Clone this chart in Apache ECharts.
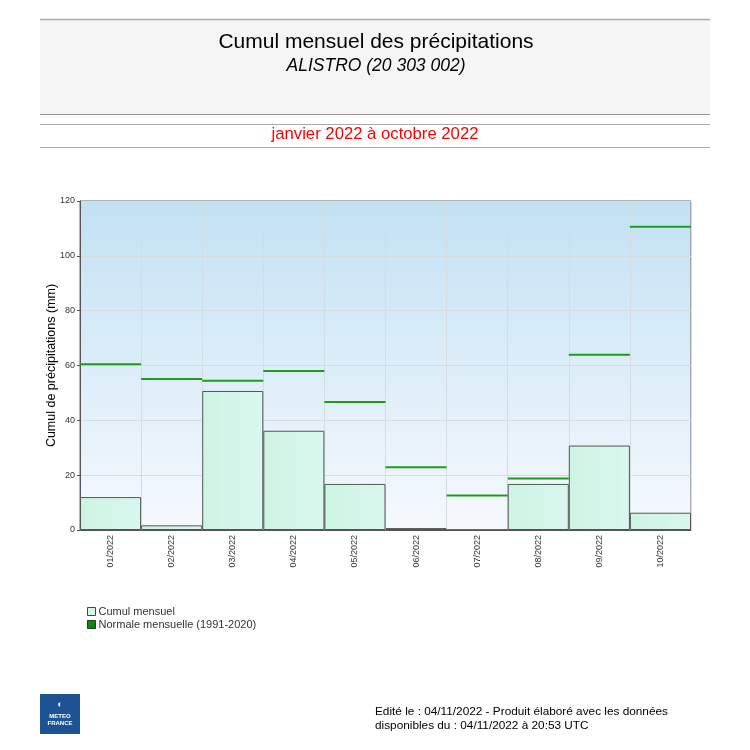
<!DOCTYPE html>
<html><head><meta charset="utf-8">
<script src="https://cdn.jsdelivr.net/npm/echarts@6/dist/echarts.min.js"></script>
<style>html,body{margin:0;padding:0;background:#fff}#c{width:750px;height:750px}</style>
</head><body><div id="c"></div>
<script>
const months = ['01/2022','02/2022','03/2022','04/2022','05/2022','06/2022','07/2022','08/2022','09/2022','10/2022'];
const cumul = [12.0, 1.7, 50.7, 36.2, 16.8, 0.7, 0.0, 16.8, 30.8, 6.3];
const normale = [60.5, 55.1, 54.4, 58.0, 46.7, 22.9, 12.6, 18.8, 63.9, 110.6];
const yTicks = [0, 20, 40, 60, 80, 100, 120];

const chart = echarts.init(document.getElementById('c'), null, {renderer:'canvas'});
const F = 'Liberation Sans, Arial, sans-serif';
chart.setOption({
  animation:false,
  textStyle:{fontFamily:F},
  grid:{left:80, top:201, width:611, height:329, show:true, borderColor:'#666', borderWidth:1,
    backgroundColor:{type:'linear',x:0,y:0,x2:0,y2:1,colorStops:[{offset:0,color:'#c2e1f3'},{offset:1,color:'#f6f9fe'}]}},
  legend:{orient:'vertical', left:82, top:601, itemWidth:8, itemHeight:8, itemGap:2, icon:'rect',
    textStyle:{fontSize:11, color:'#333', fontFamily:F, padding:[0,0,0,-2]}, selectedMode:false,
    data:[{name:'Cumul mensuel', itemStyle:{color:'#d2f5e8', borderColor:'#444', borderWidth:1}},
          {name:'Normale mensuelle (1991-2020)', itemStyle:{color:'#0a8a0a', borderColor:'#333', borderWidth:1}}]},
  xAxis:{type:'category', data:months, boundaryGap:true,
    axisLine:{lineStyle:{color:'#555'}}, axisTick:{show:false},
    axisLabel:{rotate:90, fontSize:9, color:'#333', margin:5, fontFamily:F},
    splitLine:{show:true, lineStyle:{color:'#d4dbe1', width:1}}},
  yAxis:{type:'value', min:0, max:120, interval:20,
    name:'Cumul de précipitations (mm)', nameLocation:'middle', nameGap:22, nameRotate:90, nameMoveOverlap:false,
    nameTextStyle:{fontSize:12.5, color:'#000', fontFamily:F},
    axisLine:{show:true, lineStyle:{color:'#555'}}, axisTick:{show:true, length:3, lineStyle:{color:'#555'}},
    axisLabel:{fontSize:9, color:'#333', margin:5, fontFamily:F},
    splitLine:{show:true, lineStyle:{color:'#d4dbe1', width:1}}},
  series:[
    {name:'Cumul mensuel', type:'bar', data:cumul, barCategoryGap:'0%',
     itemStyle:{color:{type:'linear',x:0,y:0,x2:1,y2:0,colorStops:[{offset:0,color:'#cdf4e3'},{offset:1,color:'#d9f7ee'}]},
       borderColor:'#555', borderWidth:1}},
    {name:'Normale mensuelle (1991-2020)', type:'custom', data:normale.map((v,i)=>[i,v]),
     itemStyle:{color:'#0a8a0a'},
     renderItem:function(params, api){
       const p = api.coord([api.value(0), api.value(1)]);
       const w = api.size([1,0])[0];
       return {type:'line', shape:{x1:p[0]-w/2, y1:p[1], x2:p[0]+w/2, y2:p[1]},
         style:{stroke:'#1a9e1a', lineWidth:2}};
     }, z:5}
  ],
  graphic:[
    {type:'rect', shape:{x:40,y:19,width:670,height:95}, style:{fill:'#f5f5f5'}, z:-1},
    {type:'line', shape:{x1:40,y1:19.5,x2:710,y2:19.5}, style:{stroke:'#aaa', lineWidth:1.5}},
    {type:'line', shape:{x1:40,y1:114.5,x2:710,y2:114.5}, style:{stroke:'#999', lineWidth:1}},
    {type:'line', shape:{x1:40,y1:124.5,x2:710,y2:124.5}, style:{stroke:'#aaa', lineWidth:1}},
    {type:'line', shape:{x1:40,y1:147.5,x2:710,y2:147.5}, style:{stroke:'#aaa', lineWidth:1}},
    {type:'text', x:376, y:42, style:{text:'Cumul mensuel des précipitations', font:'21px '+F, fill:'#000', textAlign:'center', textVerticalAlign:'middle'}},
    {type:'text', x:376, y:66, style:{text:'ALISTRO (20 303 002)', font:'italic 17.5px '+F, fill:'#000', textAlign:'center', textVerticalAlign:'middle'}},
    {type:'text', x:375, y:134, style:{text:'janvier 2022 à octobre 2022', font:'16.7px '+F, fill:'#ff0000', textAlign:'center', textVerticalAlign:'middle'}},
    {type:'text', x:375, y:712, style:{text:'Edité le : 04/11/2022 - Produit élaboré avec les données', font:'11.8px '+F, fill:'#000', textVerticalAlign:'middle'}},
    {type:'text', x:375, y:726, style:{text:'disponibles du : 04/11/2022 à 20:53 UTC', font:'11.8px '+F, fill:'#000', textVerticalAlign:'middle'}},
    {type:'rect', shape:{x:40,y:694,width:40,height:40}, style:{fill:'#1d5295'}},
    {type:'text', x:60, y:705, style:{text:'◐', font:'bold 9px '+F, fill:'#fff', textAlign:'center', textVerticalAlign:'middle'}},
    {type:'text', x:60, y:716, style:{text:'METEO', font:'bold 6px '+F, fill:'#fff', textAlign:'center', textVerticalAlign:'middle'}},
    {type:'text', x:60, y:723, style:{text:'FRANCE', font:'bold 6px '+F, fill:'#fff', textAlign:'center', textVerticalAlign:'middle'}}
  ]
});
</script></body></html>
